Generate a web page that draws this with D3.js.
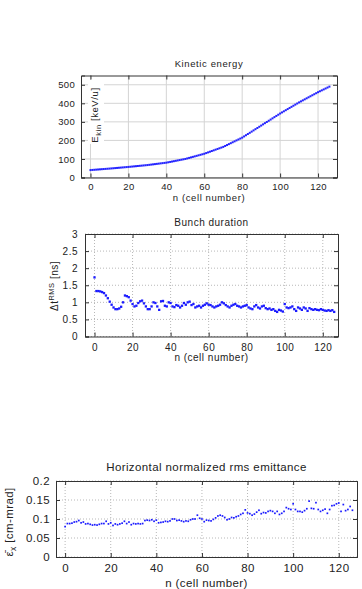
<!DOCTYPE html>
<html>
<head>
<meta charset="utf-8">
<script src="https://cdn.jsdelivr.net/npm/d3@7"></script>
<style>
  body { margin: 0; background: #fff; }
  svg text { font-family: "Liberation Sans", Arial, sans-serif; fill: #222; }
</style>
</head>
<body>
<div id="chart"></div>
<script>
const ctx = { w: 362, h: 589 };

// cell number n = 0..126 for all three series
const cells = d3.range(0, 127);

// kinetic energy [keV/u]
const energy = [
  40, 40.8, 41.6, 42.4, 43.2, 44, 44.8, 45.6, 46.4, 47.2, 48,
  48.9, 49.8, 50.7, 51.6, 52.5, 53.4, 54.3, 55.2, 56.1, 57,
  58, 59, 60, 61, 62, 63, 64, 65, 66, 67,
  68.3, 69.6, 70.9, 72.2, 73.5, 74.8, 76.1, 77.4, 78.7, 80,
  82, 84, 86, 88, 90, 92, 94, 96, 98, 100,
  102.8, 105.6, 108.4, 111.2, 114, 116.8, 119.6, 122.4, 125.2, 128,
  131.7, 135.4, 139.1, 142.8, 146.5, 150.2, 153.9, 157.6, 161.3, 165,
  170, 175, 180, 185, 190, 195, 200, 205, 210, 215,
  221.5, 228, 234.5, 241, 247.5, 254, 260.5, 267, 273.5, 280,
  286.5, 293, 299.5, 306, 312.5, 319, 325.5, 332, 338.5, 345,
  351, 357, 363, 369, 375, 381, 387, 393, 399, 405,
  410.5, 416, 421.5, 427, 432.5, 438, 443.5, 449, 454.5, 460,
  465, 470, 475, 480, 485, 490
];

// bunch duration dt RMS [ns]
const duration = [
  1.73, 1.33, 1.33, 1.32, 1.30, 1.27, 1.20, 1.12, 1.02, 0.93,
  0.85, 0.80, 0.80, 0.82, 0.87, 1.00, 1.20, 1.18, 1.15, 1.05,
  0.95, 0.88, 0.90, 0.98, 1.03, 1.05, 0.97, 0.88, 0.80, 0.80,
  0.88, 1.00, 0.98, 0.88, 0.78, 1.03, 1.04, 0.90, 0.88, 1.00,
  0.98, 0.88, 0.86, 0.92, 0.90, 0.85, 0.90, 0.98, 0.93, 1.00,
  1.02, 0.92, 0.95, 0.85, 0.88, 0.90, 0.85, 0.90, 0.93, 0.97,
  0.93, 0.92, 0.88, 0.85, 0.88, 0.90, 0.93, 1.00, 0.97, 0.92,
  0.88, 0.85, 0.90, 0.93, 0.95, 0.90, 0.88, 0.85, 0.88, 0.90,
  0.92, 0.85, 0.82, 0.80, 0.88, 0.92, 0.85, 0.82, 0.88, 0.90,
  0.83, 0.80, 0.82, 0.78, 0.80, 0.75, 0.72, 0.78, 0.76, 0.73,
  0.95, 0.85, 0.83, 0.85, 0.88, 0.80, 0.75, 0.85, 0.82, 0.78,
  0.85, 0.82, 0.75, 0.83, 0.80, 0.78, 0.80, 0.78, 0.77, 0.80,
  0.78, 0.76, 0.75, 0.77, 0.75, 0.77, 0.72
];

// horizontal normalized rms emittance [cm-mrad]
const emittance = [
  0.080, 0.088, 0.088, 0.089, 0.092, 0.093, 0.096, 0.090, 0.092, 0.087,
  0.088, 0.086, 0.084, 0.085, 0.084, 0.086, 0.088, 0.088, 0.094, 0.087,
  0.090, 0.083, 0.087, 0.085, 0.087, 0.089, 0.094, 0.088, 0.092, 0.085,
  0.088, 0.087, 0.088, 0.087, 0.088, 0.096, 0.097, 0.096, 0.098, 0.094,
  0.097, 0.090, 0.091, 0.092, 0.094, 0.093, 0.095, 0.100, 0.100, 0.096,
  0.097, 0.095, 0.093, 0.095, 0.094, 0.098, 0.100, 0.100, 0.110, 0.102,
  0.100, 0.093, 0.097, 0.096, 0.095, 0.099, 0.103, 0.108, 0.110, 0.108,
  0.104, 0.098, 0.100, 0.104, 0.103, 0.106, 0.108, 0.112, 0.115, 0.124,
  0.116, 0.114, 0.110, 0.113, 0.118, 0.123, 0.114, 0.117, 0.116, 0.120,
  0.122, 0.120, 0.115, 0.120, 0.112, 0.115, 0.120, 0.130, 0.127, 0.125,
  0.140, 0.125, 0.120, 0.120, 0.118, 0.122, 0.127, 0.147, 0.128, 0.127,
  0.143, 0.125, 0.120, 0.123, 0.126, 0.115, 0.125, 0.135, 0.136, 0.140,
  0.142, 0.120, 0.138, 0.122, 0.125, 0.133, 0.123
];

const xTicks = [0, 20, 40, 60, 80, 100, 120];
const energyTicks = [0, 100, 200, 300, 400, 500];
const durationTicks = [0, 0.5, 1, 1.5, 2, 2.5, 3];
const emittanceTicks = [0, 0.05, 0.1, 0.15, 0.2];

const svg = d3.select("#chart").append("svg")
  .attr("width", ctx.w)
  .attr("height", ctx.h);

function drawPanel(p) {
  const x = d3.scaleLinear().domain(p.xDomain).range([p.left, p.right]);
  const y = d3.scaleLinear().domain(p.yDomain).range([p.bottom, p.top]);
  const g = svg.append("g");

  // grid
  g.append("g").selectAll("line").data(p.xTicks).join("line")
    .attr("x1", d => x(d)).attr("x2", d => x(d))
    .attr("y1", p.top).attr("y2", p.bottom)
    .attr("stroke", p.gridColor).attr("stroke-dasharray", p.dash);
  g.append("g").selectAll("line").data(p.yTicks).join("line")
    .attr("x1", p.left).attr("x2", p.right)
    .attr("y1", d => y(d)).attr("y2", d => y(d))
    .attr("stroke", p.gridColor).attr("stroke-dasharray", p.dash);

  // axes, ticks pointing inward and mirrored
  const fmt = p.yFormat || (d => d);
  g.append("g").attr("transform", `translate(0,${p.bottom})`)
    .call(d3.axisBottom(x).tickValues(p.xTicks).tickSize(-4).tickPadding(p.xPad));
  g.append("g").attr("transform", `translate(0,${p.top})`)
    .call(d3.axisTop(x).tickValues(p.xTicks).tickSize(-4).tickFormat(""));
  g.append("g").attr("transform", `translate(${p.left},0)`)
    .call(d3.axisLeft(y).tickValues(p.yTicks).tickSize(-4).tickPadding(p.yPad).tickFormat(fmt));
  g.append("g").attr("transform", `translate(${p.right},0)`)
    .call(d3.axisRight(y).tickValues(p.yTicks).tickSize(-4).tickFormat(""));

  g.selectAll(".domain").attr("stroke", "#333");
  g.selectAll(".tick line").attr("stroke", "#333");
  g.selectAll(".tick text")
    .style("font-size", p.tickFont + "px")
    .style("letter-spacing", p.tickSpacing + "px")
    .attr("fill", "#222");

  // white box under the y label (label sits inside the frame)
  if (p.labelBox) {
    g.append("rect")
      .attr("x", p.labelBox[0]).attr("y", p.labelBox[1])
      .attr("width", p.labelBox[2]).attr("height", p.labelBox[3])
      .attr("fill", "#fff");
  }

  // points
  g.append("g").selectAll("rect").data(p.values).join("rect")
    .attr("x", (d, i) => x(cells[i]) - p.dot / 2)
    .attr("y", d => y(d) - p.dot / 2)
    .attr("width", p.dot).attr("height", p.dot)
    .attr("fill", p.color);

  // title
  g.append("text")
    .attr("x", (p.left + p.right) / 2).attr("y", p.titleY)
    .attr("text-anchor", "middle")
    .style("font-size", p.titleFont + "px")
    .style("letter-spacing", p.labelSpacing + "px")
    .text(p.title);

  // x label
  g.append("text")
    .attr("x", (p.left + p.right) / 2).attr("y", p.xLabelY)
    .attr("text-anchor", "middle")
    .style("font-size", p.titleFont + "px")
    .style("letter-spacing", p.labelSpacing + "px")
    .text("n (cell number)");

  // y label
  const yl = g.append("text")
    .attr("transform", `translate(${p.yLabelX},${p.yLabelY}) rotate(-90)`)
    .attr("text-anchor", "middle")
    .style("font-size", p.titleFont + "px")
    .style("letter-spacing", p.labelSpacing + "px");
  p.yLabel(yl);
}

drawPanel({
  title: "Kinetic energy", values: energy,
  xDomain: [-5, 130], yDomain: [0, 550],
  left: 81, right: 337, top: 75.5, bottom: 177.5,
  xTicks: xTicks, yTicks: energyTicks,
  gridColor: "#d4d4d4", dash: null, dot: 2, color: "#2424ff",
  tickFont: 9.5, tickSpacing: 0.3, titleFont: 9.5, labelSpacing: 0.6,
  xPad: 6, yPad: 6,
  titleY: 67, xLabelY: 201,
  yLabelX: 98, yLabelY: 115,
  labelBox: [88, 80, 16, 64],
  yLabel: t => {
    t.append("tspan").text("E");
    t.append("tspan").attr("dy", 3).style("font-size", "7.5px").text("kin");
    t.append("tspan").attr("dy", -3).text(" [keV/u]");
  }
});

drawPanel({
  title: "Bunch duration", values: duration,
  xDomain: [-5, 128], yDomain: [0, 3],
  left: 85, right: 338, top: 234, bottom: 336.5,
  xTicks: xTicks, yTicks: durationTicks,
  gridColor: "#b8b8b8", dash: "1,2", dot: 2.3, color: "#1a1aff",
  tickFont: 10, tickSpacing: 0.5, titleFont: 10, labelSpacing: 0.5,
  xPad: 7, yPad: 7,
  titleY: 226, xLabelY: 361,
  yLabelX: 58, yLabelY: 286,
  yLabel: t => {
    t.append("tspan").text("\u0394t");
    t.append("tspan").attr("dy", -4).style("font-size", "7.5px").text("RMS");
    t.append("tspan").attr("dy", 4).text(" [ns]");
  }
});

drawPanel({
  title: "Horizontal normalized rms emittance", values: emittance,
  xDomain: [-4, 128], yDomain: [0, 0.2],
  left: 56, right: 357, top: 481, bottom: 557,
  xTicks: xTicks, yTicks: emittanceTicks,
  gridColor: "#b8b8b8", dash: "1,2", dot: 1.7, color: "#1a1aff",
  tickFont: 11.5, tickSpacing: 0.4, titleFont: 11.5, labelSpacing: 0.4,
  xPad: 7, yPad: 6,
  yFormat: d => d === 0 ? "0" : String(d),
  titleY: 471, xLabelY: 587,
  yLabelX: 13, yLabelY: 522,
  yLabel: t => {
    t.append("tspan").text("\u03b5\u0304");
    t.append("tspan").attr("dy", 3).style("font-size", "8.5px").text("x");
    t.append("tspan").attr("dy", -3).text(" [cm-mrad]");
  }
});
</script>
</body>
</html>
